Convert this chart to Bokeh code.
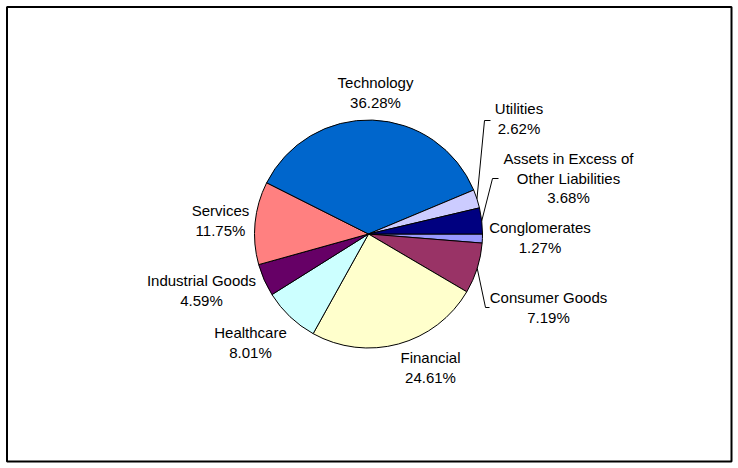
import numpy as np
from bokeh.plotting import figure
from bokeh.models import ColumnDataSource, Range1d
from bokeh.core.properties import value
from bokeh.embed import file_html
from bokeh.resources import INLINE

# ---- data (clockwise from 3 o'clock, as in the original chart) ----
categories = ["Conglomerates", "Consumer Goods", "Financial", "Healthcare",
              "Industrial Goods", "Services", "Technology", "Utilities",
              "Assets in Excess of Other Liabilities"]
percentages = [1.27, 7.19, 24.61, 8.01, 4.59, 11.75, 36.28, 2.62, 3.68]
label_names = [["Conglomerates"], ["Consumer Goods"], ["Financial"], ["Healthcare"],
               ["Industrial Goods"], ["Services"], ["Technology"], ["Utilities"],
               ["Assets in Excess of", "Other Liabilities"]]
colors = ["#9999FF", "#993366", "#FFFFCC", "#CCFFFF", "#660066",
          "#FF8080", "#0066CC", "#CCCCFF", "#000080"]

# ---- layout (pixel coordinates, y down) ----
W, H = 738, 468
CX, CY, R = 368, 233.5, 114
label_pos = [(539.5, 227), (548, 297), (430, 357), (250, 332), (201, 280),
             (220, 210), (375, 82), (518.5, 108), (568, 158)]
LINE_STEP = 19.5
leader_bends = {
    "Utilities": [(484, 120), (490, 120)],
    "Assets in Excess of Other Liabilities": [(492, 178), (498, 178)],
    "Consumer Goods": [(485, 307), (489, 307)],
}

def py(y):
    return H - y

vals = np.array(percentages, dtype=float)
frac = vals / vals.sum()
cum_end = np.cumsum(frac)
cum_start = cum_end - frac

src = ColumnDataSource(dict(
    cat=categories,
    start=(-2 * np.pi * cum_end).tolist(),
    end=(-2 * np.pi * cum_start).tolist(),
    color=colors,
))

p = figure(width=W, height=H, x_range=Range1d(0, W), y_range=Range1d(0, H),
           min_border=0, toolbar_location=None, output_backend="svg",
           x_axis_type=None, y_axis_type=None)
p.grid.visible = False
p.outline_line_color = None
p.background_fill_color = "white"
p.border_fill_color = "white"

# chart border
p.quad(left=6.5, right=731, top=py(6.5), bottom=py(461),
       fill_color=None, line_color="black", line_width=2)

p.wedge(x=CX, y=py(CY), radius=R, radius_units="screen",
        start_angle="start", end_angle="end", fill_color="color",
        line_color="black", line_width=1, source=src)

# leader lines
for i, cat in enumerate(categories):
    if cat in leader_bends:
        mid = -2 * np.pi * (cum_start[i] + cum_end[i]) / 2
        x0 = CX + R * np.cos(mid)
        y0 = py(CY) + R * np.sin(mid)
        xs = [x0] + [b[0] for b in leader_bends[cat]]
        ys = [y0] + [py(b[1]) for b in leader_bends[cat]]
        p.line(xs, ys, line_color="black", line_width=1)

# labels
tx, ty, tt = [], [], []
for i, cat in enumerate(categories):
    lines = label_names[i] + [f"{percentages[i]:.2f}%"]
    lx, ly = label_pos[i]
    for k, t in enumerate(lines):
        tx.append(lx)
        ty.append(py(ly + k * LINE_STEP))
        tt.append(t)
p.text(x=tx, y=ty, text=tt, text_font=value("Liberation Sans"),
       text_font_size="15px", text_align="center", text_baseline="middle",
       text_color="black")

open("out.html", "w").write(file_html(p, INLINE))
